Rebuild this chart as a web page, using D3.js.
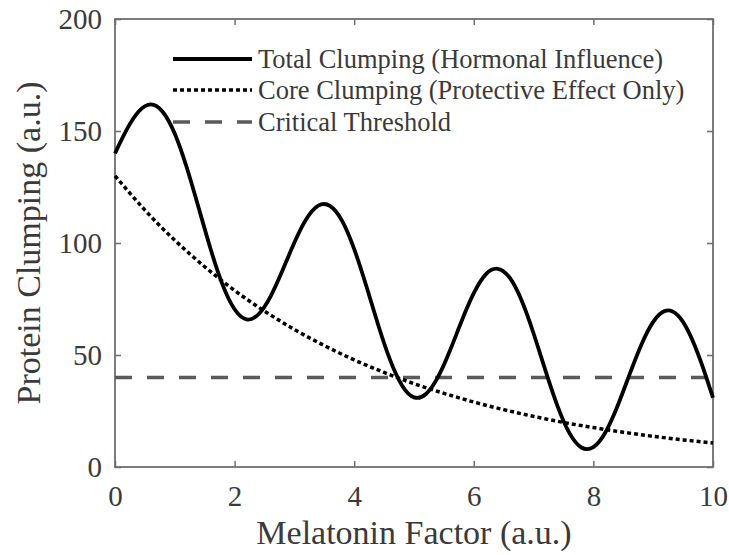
<!DOCTYPE html>
<html>
<head>
<meta charset="utf-8">
<script src="https://cdn.jsdelivr.net/npm/d3@7"></script>
<style>
  body { margin: 0; background: #fff; }
</style>
</head>
<body>
<div id="chart"></div>
<script>

// total clumping at x = 0, 0.2, ..., 10
var totalX = d3.range(0, 10.0001, 0.2);
var totalY = [140.0, 150.8, 158.8, 161.9, 158.5, 148.8, 133.7, 115.6, 97.2, 81.3,
              70.4, 65.9, 68.2, 76.1, 87.7, 100.2, 110.7, 116.7, 116.5, 109.8,
              97.3, 81.0, 63.5, 47.8, 36.4, 31.1, 32.6, 40.1, 51.9, 65.4,
              77.6, 86.0, 88.5, 84.5, 74.3, 59.6, 42.9, 27.2, 15.1, 8.7,
              8.9, 15.4, 27.0, 41.0, 54.5, 64.8, 69.7, 68.0, 59.9, 46.8, 30.9];

// core clumping at x = 0, 0.5, ..., 10
var coreX = d3.range(0, 10.0001, 0.5);
var coreY = [130.0, 114.7, 101.2, 89.4, 78.8, 69.6, 61.4, 54.2, 47.8, 42.2,
             37.2, 32.9, 29.0, 25.6, 22.6, 19.9, 17.6, 15.5, 13.7, 12.1, 10.7];

var threshold = 40;

var xTicks = [0, 2, 4, 6, 8, 10];
var yTicks = [0, 50, 100, 150, 200];

var legendLabels = ["Total Clumping (Hormonal Influence)",
                    "Core Clumping (Protective Effect Only)",
                    "Critical Threshold"];

var W = 729, H = 555;
var margin = { top: 19, right: 16, bottom: 88, left: 115 };
var width = W - margin.left - margin.right,
    height = H - margin.top - margin.bottom;

var textCol = "#3a3a3a", axisCol = "#6e6e6e";
var serif = "'Liberation Serif'";

var svg = d3.select("#chart").append("svg")
    .attr("width", W)
    .attr("height", H);

var g = svg.append("g")
    .attr("transform", "translate(" + margin.left + "," + margin.top + ")");

var x = d3.scaleLinear().domain([0, 10]).range([0, width]);
var y = d3.scaleLinear().domain([0, 200]).range([height, 0]);

// axes, ticks pointing inward like matlab
var xAxis = g.append("g")
    .attr("transform", "translate(0," + height + ")")
    .call(d3.axisBottom(x).tickValues(xTicks).tickSize(-6).tickPadding(14).tickFormat(d3.format("d")));
var yAxis = g.append("g")
    .call(d3.axisLeft(y).tickValues(yTicks).tickSize(-6).tickPadding(13).tickFormat(d3.format("d")));
g.append("g")
    .call(d3.axisTop(x).tickValues(xTicks).tickSize(-6).tickFormat(""));
g.append("g")
    .attr("transform", "translate(" + width + ",0)")
    .call(d3.axisRight(y).tickValues(yTicks).tickSize(-6).tickFormat(""));

g.selectAll(".domain").remove();
g.selectAll(".tick line").attr("stroke", axisCol).attr("stroke-width", 1.5);
g.selectAll(".tick text")
    .attr("fill", textCol)
    .style("font-family", serif)
    .style("font-size", "29px");
xAxis.selectAll(".tick text").attr("dy", "0.85em");

g.append("rect")
    .attr("width", width)
    .attr("height", height)
    .attr("fill", "none")
    .attr("stroke", axisCol)
    .attr("stroke-width", 1.8);

var line = d3.line()
    .x(function(d) { return x(d[0]); })
    .y(function(d) { return y(d[1]); })
    .curve(d3.curveNatural);

var totalData = totalX.map(function(v, i) { return [v, totalY[i]]; });
var coreData = coreX.map(function(v, i) { return [v, coreY[i]]; });

g.append("line")
    .attr("x1", x(0)).attr("x2", x(10))
    .attr("y1", y(threshold)).attr("y2", y(threshold))
    .attr("stroke", "#5a5a5a")
    .attr("stroke-width", 3.5)
    .attr("stroke-dasharray", "17,15");

g.append("path")
    .datum(coreData)
    .attr("d", line)
    .attr("fill", "none")
    .attr("stroke", "#000")
    .attr("stroke-width", 3.5)
    .attr("stroke-dasharray", "4,3");

g.append("path")
    .datum(totalData)
    .attr("d", line)
    .attr("fill", "none")
    .attr("stroke", "#000")
    .attr("stroke-width", 3.8);

// legend
var legend = svg.append("g");
var styles = [
    { stroke: "#000", w: 3.8, dash: null },
    { stroke: "#000", w: 3.5, dash: "4,3" },
    { stroke: "#5a5a5a", w: 3.5, dash: "17,15" }
];
var rowY = [59, 90, 122];
legendLabels.forEach(function(lab, i) {
    legend.append("line")
        .attr("x1", 173).attr("x2", 252)
        .attr("y1", rowY[i]).attr("y2", rowY[i])
        .attr("stroke", styles[i].stroke)
        .attr("stroke-width", styles[i].w)
        .attr("stroke-dasharray", styles[i].dash);
    legend.append("text")
        .attr("x", 258)
        .attr("y", rowY[i])
        .attr("dy", "0.35em")
        .attr("fill", textCol)
        .style("font-family", serif)
        .style("font-size", "26.5px")
        .text(lab);
});

// axis titles
svg.append("text")
    .attr("x", margin.left + width / 2)
    .attr("y", 544)
    .attr("text-anchor", "middle")
    .attr("fill", textCol)
    .style("font-family", serif)
    .style("font-size", "34px")
    .text("Melatonin Factor (a.u.)");

svg.append("text")
    .attr("transform", "translate(40," + (margin.top + height / 2) + ") rotate(-90)")
    .attr("text-anchor", "middle")
    .attr("fill", textCol)
    .style("font-family", serif)
    .style("font-size", "34px")
    .text("Protein Clumping (a.u.)");

</script>
</body>
</html>
